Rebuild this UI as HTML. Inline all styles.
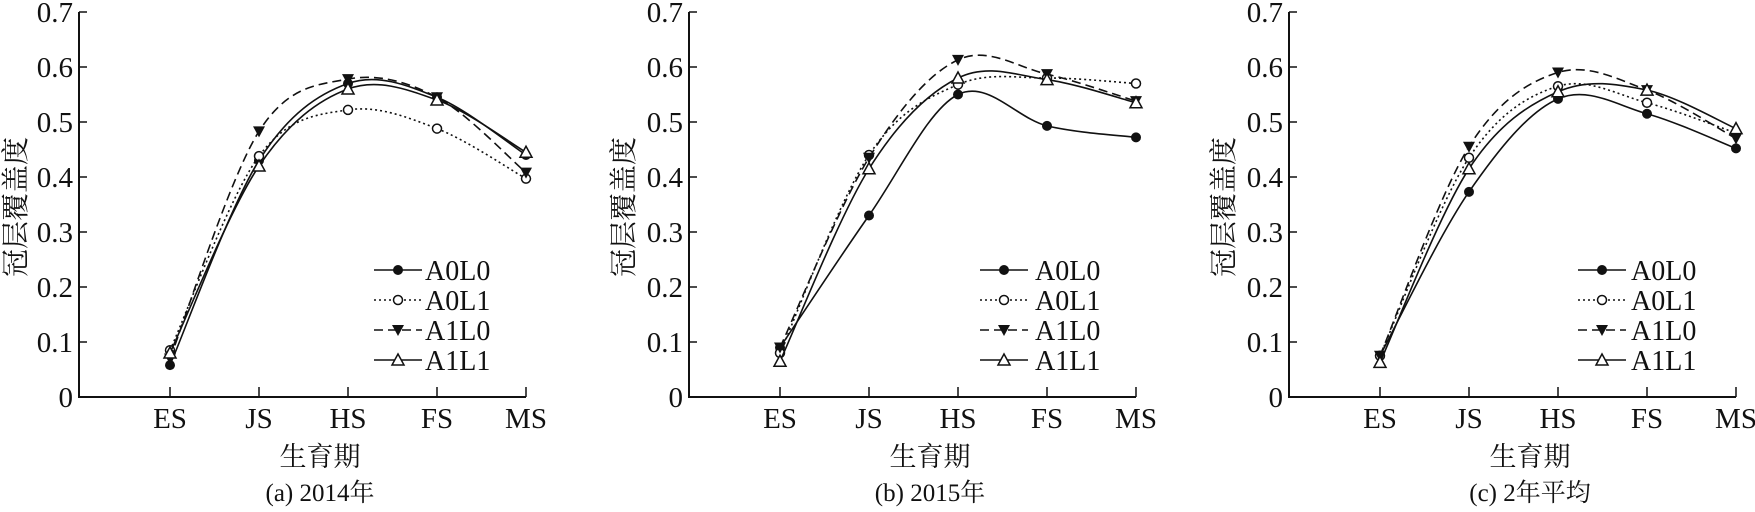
<!DOCTYPE html>
<html><head><meta charset="utf-8"><style>
html,body{margin:0;padding:0;background:#fff;}
svg{display:block;}
text{font-family:"Liberation Serif","Noto Serif CJK SC","Noto Sans CJK SC",serif;fill:#111;}
</style></head><body>
<svg id="s" width="1755" height="512" viewBox="0 0 1755 512" xmlns="http://www.w3.org/2000/svg">
<g id="p0" transform="translate(79,0)">
 <g font-size="29" text-anchor="end">
  <text x="-6" y="407">0</text><text x="-6" y="352">0.1</text><text x="-6" y="297">0.2</text><text x="-6" y="242">0.3</text><text x="-6" y="187">0.4</text><text x="-6" y="132">0.5</text><text x="-6" y="77">0.6</text><text x="-6" y="22">0.7</text>
 </g>
 <g font-size="29" text-anchor="middle">
  <text x="91" y="428">ES</text><text x="180" y="428">JS</text><text x="269" y="428">HS</text><text x="358" y="428">FS</text><text x="447" y="428">MS</text>
 </g>
 <text x="241" y="466" font-size="27" text-anchor="middle">生育期</text>
 <text x="241" y="501" font-size="25" text-anchor="middle">(a) 2014年</text>
 <text transform="translate(-54,207) rotate(-90)" font-size="28" text-anchor="middle">冠层覆盖度</text>
 <g font-size="28"><text x="346" y="280">A0L0</text><text x="346" y="310">A0L1</text><text x="346" y="340">A1L0</text><text x="346" y="370">A1L1</text></g>
</g>
<g id="p1" transform="translate(689,0)">
 <g font-size="29" text-anchor="end">
  <text x="-6" y="407">0</text><text x="-6" y="352">0.1</text><text x="-6" y="297">0.2</text><text x="-6" y="242">0.3</text><text x="-6" y="187">0.4</text><text x="-6" y="132">0.5</text><text x="-6" y="77">0.6</text><text x="-6" y="22">0.7</text>
 </g>
 <g font-size="29" text-anchor="middle">
  <text x="91" y="428">ES</text><text x="180" y="428">JS</text><text x="269" y="428">HS</text><text x="358" y="428">FS</text><text x="447" y="428">MS</text>
 </g>
 <text x="241" y="466" font-size="27" text-anchor="middle">生育期</text>
 <text x="241" y="501" font-size="25" text-anchor="middle">(b) 2015年</text>
 <text transform="translate(-56,207) rotate(-90)" font-size="28" text-anchor="middle">冠层覆盖度</text>
 <g font-size="28"><text x="346" y="280">A0L0</text><text x="346" y="310">A0L1</text><text x="346" y="340">A1L0</text><text x="346" y="370">A1L1</text></g>
</g>
<g id="p2" transform="translate(1289,0)">
 <g font-size="29" text-anchor="end">
  <text x="-6" y="407">0</text><text x="-6" y="352">0.1</text><text x="-6" y="297">0.2</text><text x="-6" y="242">0.3</text><text x="-6" y="187">0.4</text><text x="-6" y="132">0.5</text><text x="-6" y="77">0.6</text><text x="-6" y="22">0.7</text>
 </g>
 <g font-size="29" text-anchor="middle">
  <text x="91" y="428">ES</text><text x="180" y="428">JS</text><text x="269" y="428">HS</text><text x="358" y="428">FS</text><text x="447" y="428">MS</text>
 </g>
 <text x="241" y="466" font-size="27" text-anchor="middle">生育期</text>
 <text x="241" y="501" font-size="25" text-anchor="middle">(c) 2年平均</text>
 <text transform="translate(-56,207) rotate(-90)" font-size="28" text-anchor="middle">冠层覆盖度</text>
 <g font-size="28"><text x="342" y="280">A0L0</text><text x="342" y="310">A0L1</text><text x="342" y="340">A1L0</text><text x="342" y="370">A1L1</text></g>
</g>
</svg>
<script>
(function(){
var NS="http://www.w3.org/2000/svg";
var data=[
 [[0.058,0.43,0.57,0.545,0.44],[0.085,0.438,0.522,0.488,0.397],[0.07,0.483,0.578,0.545,0.408],[0.08,0.42,0.56,0.54,0.445]],
 [[0.09,0.33,0.55,0.493,0.472],[0.08,0.44,0.568,0.58,0.57],[0.09,0.435,0.613,0.587,0.538],[0.065,0.415,0.58,0.577,0.535]],
 [[0.075,0.373,0.542,0.515,0.452],[0.075,0.435,0.565,0.535,0.48],[0.075,0.455,0.59,0.558,0.47],[0.063,0.415,0.555,0.558,0.488]]
];
var legX=[295,291,289];
var dash=[null,"2,3","9,5",null];
function el(n,a,p){var e=document.createElementNS(NS,n);for(var k in a)e.setAttribute(k,a[k]);p.appendChild(e);return e;}
function X(i){return 91+89*i;}
function Y(v){return 397-v*550;}
function marker(t,x,y,g){
 if(t==0)el("circle",{cx:x,cy:y,r:5,fill:"#111"},g);
 else if(t==1)el("circle",{cx:x,cy:y,r:4.5,fill:"#fff",stroke:"#111","stroke-width":1.5},g);
 else if(t==2)el("path",{d:"M"+(x-6)+","+(y-5)+"L"+(x+6)+","+(y-5)+"L"+x+","+(y+6)+"Z",fill:"#111"},g);
 else el("path",{d:"M"+(x-6)+","+(y+5)+"L"+(x+6)+","+(y+5)+"L"+x+","+(y-6)+"Z",fill:"#fff",stroke:"#111","stroke-width":1.5},g);
}
for(var p=0;p<3;p++){
 var g=document.getElementById("p"+p);
 el("path",{d:"M0,12L0,397L447,397",fill:"none",stroke:"#111","stroke-width":2},g);
 for(var k=0;k<=7;k++){var y=397-55*k;el("line",{x1:0,y1:y,x2:8,y2:y,stroke:"#111","stroke-width":1.5},g);}
 for(var i=0;i<5;i++)el("line",{x1:X(i),y1:397,x2:X(i),y2:387,stroke:"#111","stroke-width":1.5},g);
 for(var s=0;s<4;s++){
  var v=data[p][s],pts=[];
  for(var i=0;i<5;i++)pts.push([X(i),Y(v[i])]);
  var d="M"+pts[0][0]+","+pts[0][1];
  for(var i=0;i<4;i++){
   var p0=pts[Math.max(i-1,0)],p1=pts[i],p2=pts[i+1],p3=pts[Math.min(i+2,4)];
   var c1=[p1[0]+(p2[0]-p0[0])/6,p1[1]+(p2[1]-p0[1])/6],c2=[p2[0]-(p3[0]-p1[0])/6,p2[1]-(p3[1]-p1[1])/6];
   d+="C"+c1[0]+","+c1[1]+" "+c2[0]+","+c2[1]+" "+p2[0]+","+p2[1];
  }
  var a={d:d,fill:"none",stroke:"#111","stroke-width":1.6};
  if(dash[s])a["stroke-dasharray"]=dash[s];
  el("path",a,g);
  for(var i=0;i<5;i++)marker(s,pts[i][0],pts[i][1],g);
  var ly=270+30*s,lx=legX[p];
  var la={x1:lx,y1:ly,x2:lx+48,y2:ly,stroke:"#111","stroke-width":1.6};
  if(dash[s])la["stroke-dasharray"]=dash[s];
  el("line",la,g);
  marker(s,lx+24,ly,g);
 }
}
})();
</script>
</body></html>
